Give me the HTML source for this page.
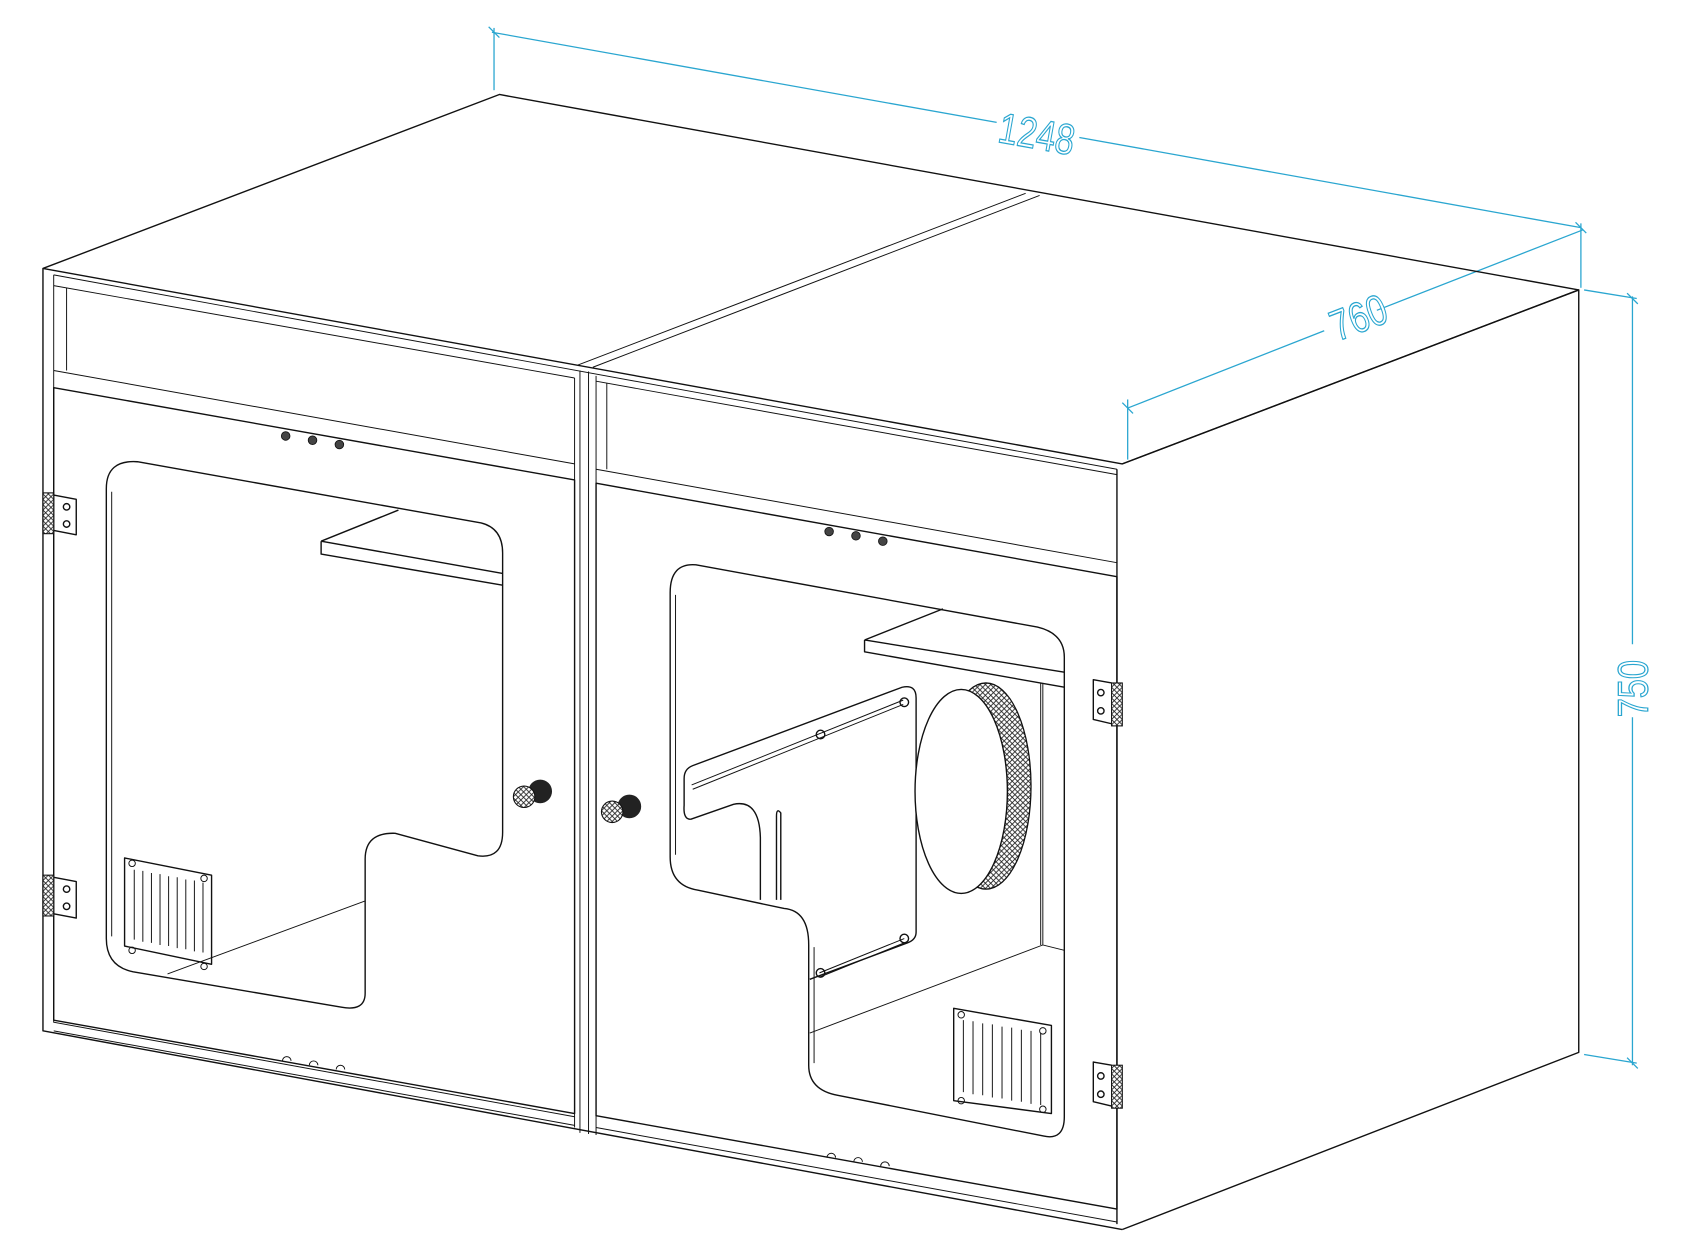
<!DOCTYPE html>
<html><head><meta charset="utf-8"><style>
html,body{margin:0;padding:0;background:#fff;}
svg{display:block;}
.k{fill:none;stroke:#111;stroke-width:1.3;stroke-linejoin:round}
.t{fill:none;stroke:#111;stroke-width:0.9}
.d{fill:none;stroke:#2aa6d0;stroke-width:1.2}
.dt{font-family:"Liberation Sans",sans-serif;font-size:40px;fill:#fff;stroke:#2aa6d0;stroke-width:1.2}
</style></head><body>
<svg width="1684" height="1251" viewBox="0 0 1568 1165" preserveAspectRatio="none">
<defs>
<pattern id="h" width="5" height="5" patternUnits="userSpaceOnUse"><rect width="5" height="5" fill="#fff"/><path d="M0 5L5 0M0 0L5 5" stroke="#222" stroke-width="0.8"/></pattern>
</defs>
<!-- dimensions -->
<line class="d" x1="460" y1="26" x2="460" y2="84"/>
<line class="d" x1="458" y1="30" x2="928" y2="114"/>
<line class="d" x1="1005" y1="128" x2="1472" y2="212"/>
<line class="d" x1="1472" y1="208" x2="1472" y2="268"/>
<line class="d" x1="1050" y1="372" x2="1050" y2="428"/>
<line class="d" x1="1050" y1="380" x2="1233" y2="308"/>
<line class="d" x1="1282" y1="289" x2="1474" y2="214"/>
<line class="d" x1="1475" y1="270" x2="1524" y2="278"/>
<line class="d" x1="1475" y1="982" x2="1524" y2="990"/>
<line class="d" x1="1520" y1="276" x2="1520" y2="600"/>
<line class="d" x1="1520" y1="668" x2="1520" y2="992"/>
<path class="d" d="M455 25l10 10M1467 207l10 10M1045 375l10 10M1515 273l10 10M1515 985l10 10"/>
<text class="dt" transform="translate(928,132) rotate(10.2) scale(0.8,1)">1248</text>
<text class="dt" transform="translate(1245,318) rotate(-21) scale(0.8,1)">760</text>
<text class="dt" transform="translate(1534,668) rotate(-90) scale(0.8,1)">750</text>

<!-- top face -->
<path class="k" d="M40 250L465 88L1470 270L1045 432Z"/>
<path class="t" d="M50 256L1040 437"/>
<path class="t" d="M538 340L955 180M552 342L968 182"/>
<!-- side face -->
<path class="k" d="M1045 432L1470 270L1470 980L1045 1145"/>
<path class="k" d="M1040 437L1040 1140"/>
<!-- front outer -->
<path class="k" d="M40 250L40 960L1045 1145"/>
<path class="t" d="M50 256L50 952L535 1040"/>
<path class="t" d="M50 266L535 352M50 345L535 432M62 268L62 345"/>
<path class="t" d="M535 352L535 1050M540 345L540 1055M548 346L548 1056M555 350L555 1057"/>
<path class="t" d="M555 355L1040 442M555 437L1040 524M565 357L565 437"/>
<path class="t" d="M50 960L535 1048M555 1050L1040 1138"/>
<!-- doors -->
<path class="k" d="M50 361L535 447L535 1037L50 950Z"/>
<path class="k" d="M555 450L1040 537L1040 1126L555 1039Z"/>
<!-- left cutout -->
<path class="k" d="M99 455Q99 428 128 430L448 487Q468 492 468 515L468 775Q468 800 445 797L368 776Q340 775 340 800L340 925Q340 942 318 938L124 905Q99 900 99 874Z"/>
<path class="t" d="M104 458L104 872"/>
<path class="k" d="M299 504L371 475M299 504L299 516L468 545M299 504L468 534"/>
<path class="t" d="M156 907L340 839"/>
<!-- left vent -->
<path class="k" d="M116 799L197 815L197 898L116 881Z"/>
<g class="t"><path d="M125 810v65M133 811v66M141 813v65M149 814v66M157 816v65M165 817v66M173 819v65M181 820v66M189 822v65"/></g>
<circle cx="123" cy="804" r="3" class="t"/><circle cx="190" cy="818" r="3" class="t"/><circle cx="123" cy="885" r="3" class="t"/><circle cx="190" cy="900" r="3" class="t"/>
<!-- right cutout -->
<path class="k" d="M624 552Q624 524 648 526L966 584Q991 590 991 612L991 1040Q991 1062 972 1058L780 1020Q753 1015 753 992L753 880Q753 848 730 846L650 829Q624 825 624 798Z"/>
<path class="t" d="M629 554L629 796M758 882L758 990"/>
<path class="k" d="M805 596L878 567M805 596L805 607L991 640M805 596L991 626"/>
<path class="t" d="M971 636L971 880M969 636L969 880M991 885L971 880L754 962"/>
<!-- tube panel -->
<path class="k" d="M643 763Q636 763 637 750L637 725Q637 716 645 713L840 640Q853 637 853 650L853 868Q853 875 845 878L754 912"/>
<path class="k" d="M643 763L683 749Q707 744 708 780L708 838M723 838L723 760Q723 752 727 757L727 838"/>
<path class="t" d="M644 731L841 652M645 735L841 656"/>
<circle cx="764" cy="684" r="4" class="k" fill="#fff"/><circle cx="842" cy="654" r="4" class="k" fill="#fff"/>
<path class="t" d="M763 906L842 874M763 910L842 878"/>
<circle cx="764" cy="906" r="4" class="k" fill="#fff"/><circle cx="842" cy="874" r="4" class="k" fill="#fff"/>
<!-- round hole -->
<ellipse cx="918" cy="732" rx="42" ry="96" fill="url(#h)" stroke="#111" stroke-width="1.2"/>
<ellipse cx="895" cy="737" rx="43" ry="95" fill="#fff" stroke="#111" stroke-width="1.3"/>
<!-- right vent -->
<path class="k" d="M888 939L979 955L979 1037L888 1025Z"/>
<g class="t"><path d="M897 950v67M906 951v68M915 953v67M924 954v68M933 956v67M942 957v68M951 959v67M960 960v68M969 962v67"/></g>
<circle cx="895" cy="945" r="3" class="t"/><circle cx="971" cy="960" r="3" class="t"/><circle cx="895" cy="1025" r="3" class="t"/><circle cx="971" cy="1033" r="3" class="t"/>
<!-- knobs -->
<circle cx="503" cy="737" r="11" fill="#222"/><circle cx="488" cy="742" r="10" fill="url(#h)" stroke="#111"/>
<circle cx="586" cy="751" r="11" fill="#222"/><circle cx="570" cy="756" r="10" fill="url(#h)" stroke="#111"/>
<!-- screws -->
<g fill="#444" stroke="#111" stroke-width="0.8">
<circle cx="266" cy="406" r="4"/><circle cx="291" cy="410" r="4"/><circle cx="316" cy="414" r="4"/>
<circle cx="772" cy="495" r="4"/><circle cx="797" cy="499" r="4"/><circle cx="822" cy="504" r="4"/>
</g>
<g class="t"><path d="M263 988a4 4 0 0 1 8 0M288 992a4 4 0 0 1 8 0M313 996a4 4 0 0 1 8 0M770 1078a4 4 0 0 1 8 0M795 1082a4 4 0 0 1 8 0M820 1086a4 4 0 0 1 8 0"/></g>
<!-- hinges left -->
<g>
<rect x="40" y="459" width="10" height="38" fill="url(#h)" stroke="#111"/>
<path class="k" d="M50 461L71 465L71 498L50 494"/>
<circle cx="62" cy="472" r="3" class="k"/><circle cx="62" cy="488" r="3" class="k"/>
<rect x="40" y="815" width="10" height="38" fill="url(#h)" stroke="#111"/>
<path class="k" d="M50 817L71 821L71 855L50 851"/>
<circle cx="62" cy="828" r="3" class="k"/><circle cx="62" cy="844" r="3" class="k"/>
</g>
<!-- hinges right -->
<g>
<rect x="1035" y="636" width="10" height="40" fill="url(#h)" stroke="#111"/>
<path class="k" d="M1035 636L1018 633L1018 670L1035 674"/>
<circle cx="1025" cy="645" r="3" class="k"/><circle cx="1025" cy="662" r="3" class="k"/>
<rect x="1035" y="992" width="10" height="40" fill="url(#h)" stroke="#111"/>
<path class="k" d="M1035 992L1018 989L1018 1026L1035 1030"/>
<circle cx="1025" cy="1002" r="3" class="k"/><circle cx="1025" cy="1019" r="3" class="k"/>
</g>
</svg>
</body></html>
